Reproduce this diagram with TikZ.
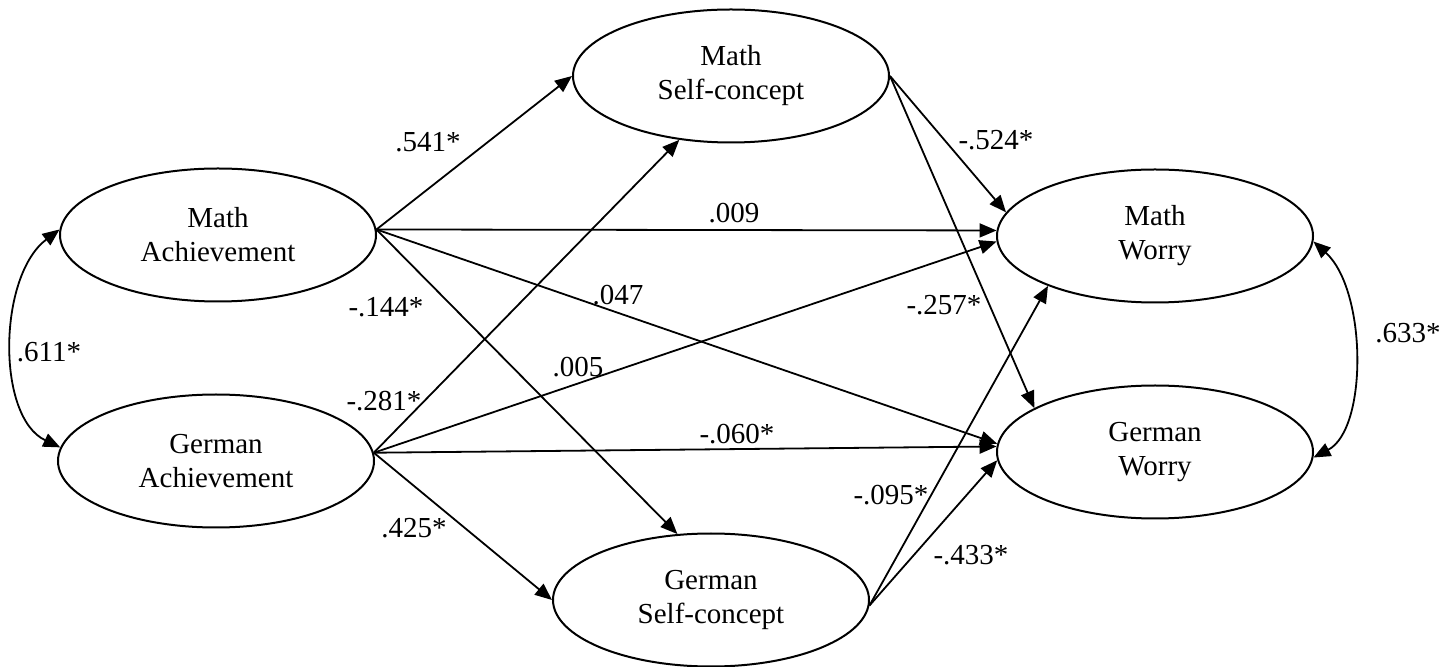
\documentclass[tikz,border=0pt]{standalone}
\usepackage{fontspec}
\setmainfont{Liberation Serif}
\usetikzlibrary{shapes.geometric,arrows.meta}
\begin{document}
\begin{tikzpicture}[x=0.5pt,y=-0.5pt,
  lat/.style={ellipse, draw, line width=1pt, minimum width=158pt, minimum height=66.5pt,
    inner sep=0pt, align=center, font=\fontsize{14.5}{17}\selectfont},
  conn/.style={line width=0.9pt, -{Triangle[length=8.5pt,width=7pt]}},
  cov/.style={line width=0.9pt, {Triangle[length=8.5pt,width=7pt]}-{Triangle[length=8.5pt,width=7pt]}},
  lab/.style={font=\fontsize{14.5}{17}\selectfont, inner sep=0pt}]
\useasboundingbox (0,0) rectangle (1445,667);

% latent variables
\node[lat] (ma)  at (218,235)  {Math\\Achievement};
\node[lat] (ga)  at (216,461)  {German\\Achievement};
\node[lat] (msc) at (731,76)   {Math\\Self-concept};
\node[lat] (gsc) at (711,600)  {German\\Self-concept};
\node[lat] (mw)  at (1155,236) {Math\\Worry};
\node[lat] (gw)  at (1155,452) {German\\Worry};

% paths
\draw[conn] (ma.2) -- (msc.west);
\draw[conn] (ma.2) -- (gsc.117);
\draw[conn] (ma.2) -- (mw.178);
\draw[conn] (ma.2) -- (gw.177);
\draw[conn] (ga.3) -- (msc.231);
\draw[conn] (ga.3) -- (gsc.west);
\draw[conn] (ga.3) -- (mw.182);
\draw[conn] (ga.3) -- (gw.178);
\draw[conn] (msc.east) -- (mw.171);
\draw[conn] (msc.east) -- (gw.160);
\draw[conn] (gsc.358) -- (mw.205);
\draw[conn] (gsc.358) -- (gw.183);

% covariances
\draw[cov] (ma.178) .. controls (-2,276) and (-4,417) .. (ga.175);
\draw[cov] (mw.358) .. controls (1367,290) and (1368,429) .. (gw.358);

% labels
\node[lab] (l541) at (428,142) {.541*};
\node[lab] (l144) at (386,307) {-.144*};
\node[lab] (l281) at (384,401) {-.281*};
\node[lab] (l425) at (414,528) {.425*};
\node[lab] (l009) at (734,213) {.009};
\node[lab] (l047) at (618,295) {.047};
\node[lab] (l005) at (578,367) {.005};
\node[lab] (l060) at (737,434) {-.060*};
\node[lab] (l524) at (996,140) {-.524*};
\node[lab] (l257) at (944,305) {-.257*};
\node[lab] (l095) at (891,495) {-.095*};
\node[lab] (l433) at (971,555) {-.433*};
\node[lab] (l611) at (49,352)  {.611*};
\node[lab] (l633) at (1408,333) {.633*};
\end{tikzpicture}
\end{document}
